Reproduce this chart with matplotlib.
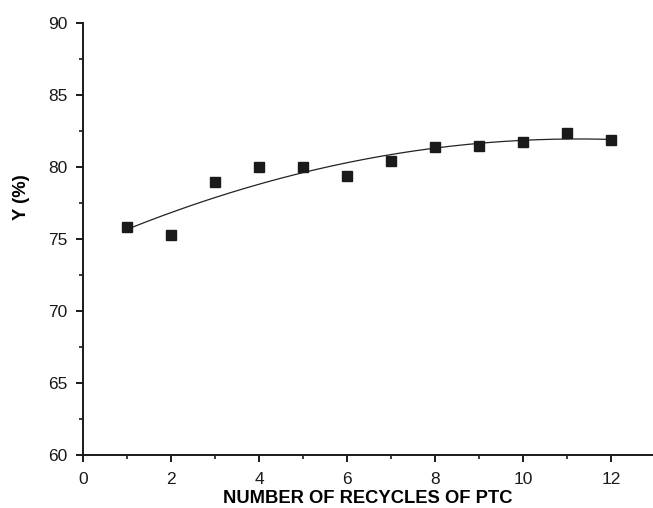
import numpy as np
import matplotlib
matplotlib.use('Agg')
import matplotlib.pyplot as plt
from matplotlib.ticker import MultipleLocator

plt.rcParams['font.family'] = ['Liberation Sans', 'DejaVu Sans']

# data
recycles = [1, 2, 3, 4, 5, 6, 7, 8, 9, 10, 11, 12]
yield_pct = [75.85, 75.25, 78.97, 79.97, 80.0, 79.37, 80.39, 81.37, 81.46, 81.7, 82.39, 81.88]

fig = plt.figure(figsize=(6.53, 5.08), dpi=100)
ax = fig.add_axes([0.127, 0.104, 0.873, 0.851])

# quadratic fit through the points
coef = np.polyfit(recycles, yield_pct, 2)
xf = np.linspace(min(recycles), max(recycles), 200)
ax.plot(xf, np.polyval(coef, xf), color='#222222', lw=0.9)

ax.plot(recycles, yield_pct, 's', color='#1a1a1a', ms=7.2, mec='#1a1a1a')

ax.set_xlim(0, 12.95)
ax.set_ylim(60, 90)
ax.xaxis.set_major_locator(MultipleLocator(2))
ax.xaxis.set_minor_locator(MultipleLocator(1))
ax.yaxis.set_major_locator(MultipleLocator(5))
ax.yaxis.set_minor_locator(MultipleLocator(2.5))

for s in ['top', 'right']:
    ax.spines[s].set_visible(False)
for s in ['left', 'bottom']:
    ax.spines[s].set_linewidth(1.4)
    ax.spines[s].set_color('#1a1a1a')

ax.tick_params(which='major', direction='out', length=5, width=1.4, labelsize=12.5, colors='#1a1a1a')
ax.tick_params(axis='x', which='major', pad=7)
ax.tick_params(axis='y', which='major', pad=6)
ax.tick_params(which='minor', direction='out', length=3, width=1.2, colors='#1a1a1a')

ax.set_xlabel('NUMBER OF RECYCLES OF PTC', fontsize=13.2, fontweight='bold', labelpad=2)
ax.set_ylabel('Y (%)', fontsize=13.2, fontweight='bold')
ax.yaxis.set_label_coords(-0.093, 0.597)

fig.savefig('out.png', dpi=100)
